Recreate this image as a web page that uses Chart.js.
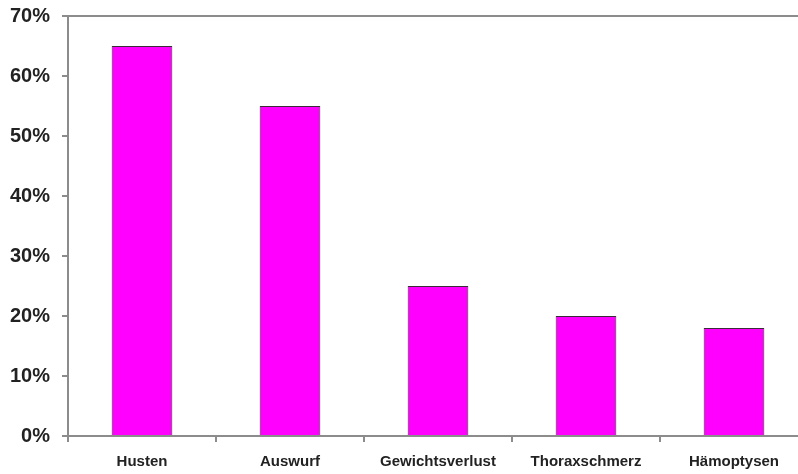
<!DOCTYPE html>
<html>
<head>
<meta charset="utf-8">
<script src="https://cdn.jsdelivr.net/npm/chart.js@4.4.0/dist/chart.umd.min.js"></script>
<style>
  html, body { margin: 0; padding: 0; background: #fff; overflow: hidden; }
  #wrap { width: 798px; height: 474px; overflow: hidden; }
  #box { width: 810px; height: 474px; }
</style>
</head>
<body>
<div id="wrap"><div id="box"><canvas id="grafico"></canvas></div></div>
<script>
// Daten
const kategorien = ['Husten', 'Auswurf', 'Gewichtsverlust', 'Thoraxschmerz', 'Hämoptysen'];
const anteile = [65, 55, 25, 20, 18];
const yTicks = [0, 10, 20, 30, 40, 50, 60, 70];

const grau = '#8c8c8c';

const ctx = document.getElementById('grafico').getContext('2d');
new Chart(ctx, {
    type: 'bar',
    data: {
        labels: kategorien,
        datasets: [{
            data: anteile,
            backgroundColor: '#ff00ff',
            borderColor: '#3a2a3a',
            borderWidth: 1,
            categoryPercentage: 1,
            barPercentage: 0.41
        }]
    },
    options: {
        responsive: true,
        maintainAspectRatio: false,
        animation: false,
        layout: { padding: { top: 16, right: 2, left: 0, bottom: 0 } },
        plugins: { legend: { display: false }, tooltip: { enabled: false } },
        scales: {
            x: {
                afterFit: s => { s.height = 38; s.paddingLeft = 0; s.paddingRight = 0; },
                grid: { color: 'transparent', tickColor: grau, tickLength: 6, lineWidth: 2, offset: true },
                border: { color: grau, width: 2 },
                ticks: {
                    color: '#222',
                    padding: 11,
                    font: { family: 'Liberation Sans, Arial', size: 15, weight: 'bold' }
                }
            },
            y: {
                min: 0,
                max: 70,
                afterFit: s => { s.width = 68; s.paddingTop = 0; s.paddingBottom = 0; },
                afterBuildTicks: s => { s.ticks = yTicks.map(v => ({ value: v })); },
                grid: {
                    color: c => (c.tick && c.tick.value === 70 ? grau : 'transparent'),
                    lineWidth: 2,
                    tickColor: grau,
                    tickLength: 6
                },
                border: { color: grau, width: 2 },
                ticks: {
                    color: '#222',
                    padding: 12,
                    callback: v => v + '%',
                    font: { family: 'Liberation Sans, Arial', size: 20, weight: 'bold' }
                }
            }
        }
    }
});
</script>
</body>
</html>
